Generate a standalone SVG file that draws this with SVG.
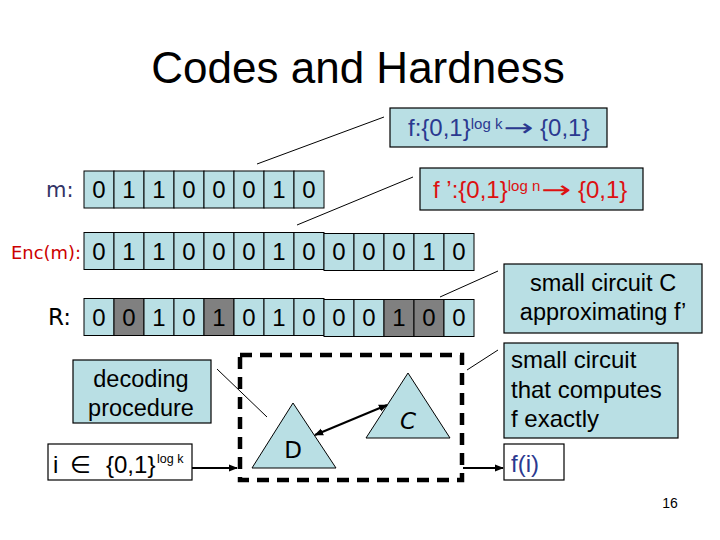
<svg xmlns="http://www.w3.org/2000/svg" width="720" height="540" viewBox="0 0 720 540">
<defs>
<style>
.cell{fill:#b9dfe4;stroke:#000;stroke-width:1}
.gray{fill:#808080;stroke:#000;stroke-width:1}
.box{fill:#b9dfe4;stroke:#000;stroke-width:1.2}
.wbox{fill:#fff;stroke:#000;stroke-width:1.2}
.dig{font-family:"Liberation Sans",Arial,sans-serif;font-size:24px;fill:#000;text-anchor:middle}
.lbl{font-family:"DejaVu Sans",sans-serif}
.sans{font-family:"Liberation Sans",Arial,sans-serif}
.ar{font-family:"DejaVu Sans",sans-serif}
.lead{stroke:#000;stroke-width:1;fill:none}
.arr{stroke:#000;stroke-width:2;fill:none}
.tri{fill:#b9dfe4;stroke:#000;stroke-width:1}
</style>
<marker id="ah" viewBox="0 0 10 10" refX="9" refY="5" markerWidth="9" markerHeight="9" markerUnits="userSpaceOnUse" orient="auto-start-reverse">
<path d="M0,1 L10,5 L0,9 Z" fill="#000"/>
</marker>
</defs>
<rect width="720" height="540" fill="#fff"/>
<text class="sans" x="358" y="83" font-size="44" text-anchor="middle" fill="#000">Codes and Hardness</text>

<g id="f-box">
<rect class="box" x="390" y="108" width="217" height="39"/>
<text class="sans" x="408" y="136" font-size="24" fill="#2b3990">f:{0,1}<tspan font-size="15" dy="-7">log k</tspan><tspan class="ar" dx="1" dy="7" textLength="30" lengthAdjust="spacingAndGlyphs">→</tspan><tspan> {0,1}</tspan></text>
</g>
<g id="fprime-box">
<rect class="box" x="420" y="168" width="223" height="42"/>
<text class="sans" x="433" y="198" font-size="24" fill="#dd1111">f ’:{0,1}<tspan font-size="15" dy="-7">log n</tspan><tspan class="ar" dx="1" dy="7" textLength="30" lengthAdjust="spacingAndGlyphs">→</tspan><tspan> {0,1}</tspan></text>
</g>

<g id="m-row">
<text class="lbl" x="46" y="197" font-size="21" fill="#333366">m:</text>
<rect class="cell" x="84" y="171" width="30" height="37"/>
<rect class="cell" x="114" y="171" width="30" height="37"/>
<rect class="cell" x="144" y="171" width="30" height="37"/>
<rect class="cell" x="174" y="171" width="30" height="37"/>
<rect class="cell" x="204" y="171" width="30" height="37"/>
<rect class="cell" x="234" y="171" width="30" height="37"/>
<rect class="cell" x="264" y="171" width="30" height="37"/>
<rect class="cell" x="294" y="171" width="30" height="37"/>
<text class="dig" y="198"><tspan x="99">0</tspan><tspan x="129">1</tspan><tspan x="159">1</tspan><tspan x="189">0</tspan><tspan x="219">0</tspan><tspan x="249">0</tspan><tspan x="279">1</tspan><tspan x="309">0</tspan></text>
</g>

<g id="enc-row">
<text class="lbl" x="11" y="259" font-size="17" fill="#cc0000" textLength="70" lengthAdjust="spacingAndGlyphs">Enc(m):</text>
<rect class="cell" x="84" y="232.5" width="30" height="37"/>
<rect class="cell" x="114" y="232.5" width="30" height="37"/>
<rect class="cell" x="144" y="232.5" width="30" height="37"/>
<rect class="cell" x="174" y="232.5" width="30" height="37"/>
<rect class="cell" x="204" y="232.5" width="30" height="37"/>
<rect class="cell" x="234" y="232.5" width="30" height="37"/>
<rect class="cell" x="264" y="232.5" width="30" height="37"/>
<rect class="cell" x="294" y="232.5" width="30" height="37"/>
<rect class="cell" x="324" y="233.5" width="30" height="37"/>
<rect class="cell" x="354" y="233.5" width="30" height="37"/>
<rect class="cell" x="384" y="233.5" width="30" height="37"/>
<rect class="cell" x="414" y="233.5" width="30" height="37"/>
<rect class="cell" x="444" y="233.5" width="30" height="37"/>
<text class="dig" y="260"><tspan x="99">0</tspan><tspan x="129">1</tspan><tspan x="159">1</tspan><tspan x="189">0</tspan><tspan x="219">0</tspan><tspan x="249">0</tspan><tspan x="279">1</tspan><tspan x="309">0</tspan><tspan x="339">0</tspan><tspan x="369">0</tspan><tspan x="399">0</tspan><tspan x="429">1</tspan><tspan x="459">0</tspan></text>
</g>

<g id="r-row">
<text class="lbl" x="48" y="325" font-size="23" fill="#000">R:</text>
<rect class="cell" x="84" y="298.5" width="30" height="37"/>
<rect class="gray" x="114" y="298.5" width="30" height="37"/>
<rect class="cell" x="144" y="298.5" width="30" height="37"/>
<rect class="cell" x="174" y="298.5" width="30" height="37"/>
<rect class="gray" x="204" y="298.5" width="30" height="37"/>
<rect class="cell" x="234" y="298.5" width="30" height="37"/>
<rect class="cell" x="264" y="298.5" width="30" height="37"/>
<rect class="cell" x="294" y="298.5" width="30" height="37"/>
<rect class="cell" x="324" y="299.5" width="30" height="37"/>
<rect class="cell" x="354" y="299.5" width="30" height="37"/>
<rect class="gray" x="384" y="299.5" width="30" height="37"/>
<rect class="gray" x="414" y="299.5" width="30" height="37"/>
<rect class="cell" x="444" y="299.5" width="30" height="37"/>
<text class="dig" y="326"><tspan x="99">0</tspan><tspan x="129">0</tspan><tspan x="159">1</tspan><tspan x="189">0</tspan><tspan x="219">1</tspan><tspan x="249">0</tspan><tspan x="279">1</tspan><tspan x="309">0</tspan><tspan x="339">0</tspan><tspan x="369">0</tspan><tspan x="399">1</tspan><tspan x="429">0</tspan><tspan x="459">0</tspan></text>
</g>

<g id="circuit-c-box">
<rect class="box" x="504" y="264" width="198" height="69"/>
<text class="sans" x="603" y="291" font-size="23.5" text-anchor="middle" fill="#000">small circuit C</text>
<text class="sans" x="603" y="320" font-size="23.5" text-anchor="middle" fill="#000">approximating f’</text>
</g>

<g id="exact-box">
<rect class="box" x="504" y="343" width="174" height="95"/>
<text class="sans" font-size="24" fill="#000"><tspan x="511" y="368">small circuit</tspan><tspan x="511" y="398">that computes</tspan><tspan x="511" y="427">f exactly</tspan></text>
</g>

<g id="decoding-box">
<rect class="box" x="73" y="360" width="138" height="63"/>
<text class="sans" font-size="23.5" text-anchor="middle" fill="#000"><tspan x="141" y="387">decoding</tspan><tspan x="141" y="416">procedure</tspan></text>
</g>

<g id="input-box">
<rect class="wbox" x="48" y="444" width="144" height="36"/>
<text class="sans" y="473" font-size="24" fill="#000"><tspan x="53">i</tspan><tspan class="ar" x="70">∈</tspan><tspan x="106">{0,1}</tspan><tspan font-size="12.5" x="157" y="463">log k</tspan></text>
</g>

<g id="output-box">
<rect class="wbox" x="504" y="444" width="60" height="36"/>
<text class="sans" x="511" y="472" font-size="24" fill="#2b3990">f(i)</text>
</g>

<g id="dashed-box">
<rect x="240" y="355" width="222" height="125" fill="none" stroke="#000" stroke-width="4.5" stroke-dasharray="12 8"/>
</g>

<g id="triangle-d">
<polygon class="tri" points="293,403 252,468 336,468"/>
<text class="lbl" x="293" y="458" font-size="23" text-anchor="middle" fill="#000">D</text>
</g>
<g id="triangle-c">
<polygon class="tri" points="408,373 366,438 450,438"/>
<text class="lbl" x="408" y="429" font-size="23" font-style="italic" text-anchor="middle" fill="#000">C</text>
</g>

<g id="connectors">
<line class="lead" x1="257" y1="164" x2="384" y2="117"/>
<line class="lead" x1="297" y1="225" x2="413" y2="177"/>
<line class="lead" x1="440" y1="297" x2="498" y2="271"/>
<line class="lead" x1="467" y1="370" x2="498" y2="350"/>
<line class="lead" x1="217" y1="369" x2="267" y2="417"/>
<line class="arr" x1="315" y1="435" x2="387" y2="405" stroke-width="2.5" marker-start="url(#ah)" marker-end="url(#ah)"/>
<line class="arr" x1="192" y1="468" x2="237" y2="468" marker-end="url(#ah)"/>
<line class="arr" x1="463" y1="468" x2="503" y2="468" marker-end="url(#ah)"/>
</g>

<text class="sans" x="670" y="508" font-size="14" text-anchor="middle" fill="#000">16</text>
</svg>
